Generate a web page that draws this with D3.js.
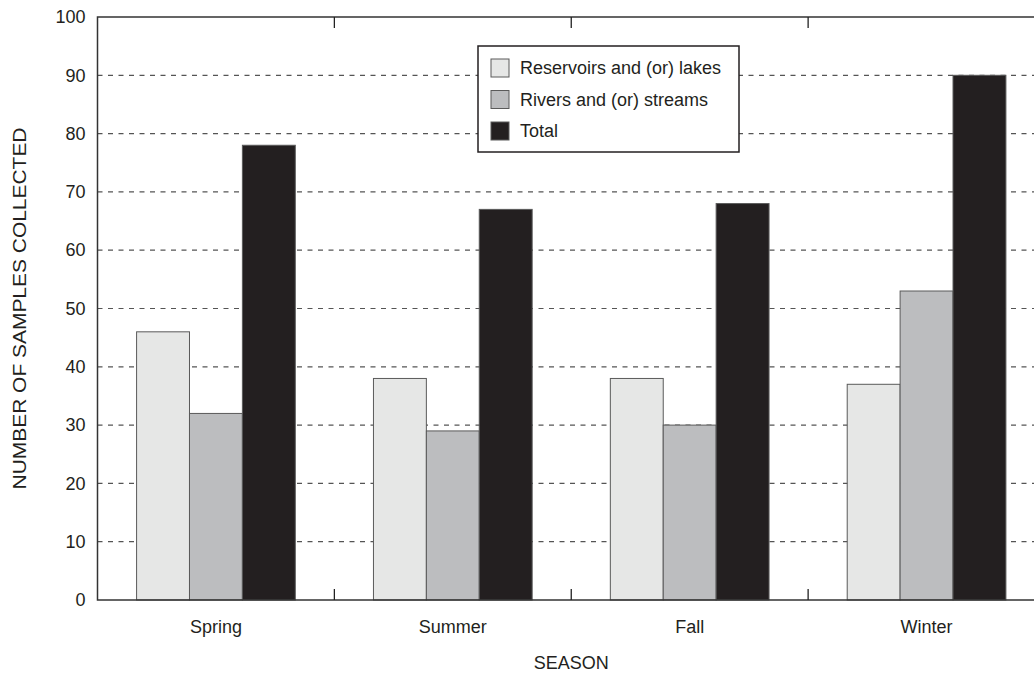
<!DOCTYPE html>
<html>
<head>
<meta charset="utf-8">
<script src="https://cdn.jsdelivr.net/npm/d3@7"></script>
<style>
  body { margin: 0; background: #fff; }
  svg { display: block; font-family: "Liberation Sans", Arial, sans-serif; }
</style>
</head>
<body>
<script>
// data
var seasons = ["Spring", "Summer", "Fall", "Winter"];
var seriesNames = ["Reservoirs and (or) lakes", "Rivers and (or) streams", "Total"];
var reservoirs = [46, 38, 38, 37];
var rivers = [32, 29, 30, 53];
var totals = [78, 67, 68, 90];
var yTicks = [0, 10, 20, 30, 40, 50, 60, 70, 80, 90, 100];
var colors = ["#e6e7e6", "#bcbdbf", "#231f20"];

var W = 1034, H = 675;
var margin = {top: 17, left: 97.5, bottom: 75, right: -11};
var plotW = W - margin.left - margin.right,
    plotH = H - margin.top - margin.bottom;

var svg = d3.select("body").append("svg")
  .attr("width", W)
  .attr("height", H);

var g = svg.append("g")
  .attr("transform", "translate(" + margin.left + "," + margin.top + ")");

var x = d3.scaleBand()
  .domain(seasons)
  .range([0, plotW])
  .paddingInner(0.33)
  .paddingOuter(0.165);

var xInner = d3.scaleBand()
  .domain(d3.range(3))
  .range([0, x.bandwidth()]);

var y = d3.scaleLinear()
  .domain([0, 100])
  .range([plotH, 0]);

// dashed grid
g.selectAll(".grid")
  .data(yTicks.filter(function(d) { return d > 0 && d < 100; }))
  .enter().append("line")
    .attr("x1", 0)
    .attr("x2", plotW)
    .attr("y1", function(d) { return y(d); })
    .attr("y2", function(d) { return y(d); })
    .attr("stroke", "#555")
    .attr("stroke-width", 1.2)
    .attr("stroke-dasharray", "5,5.5");

// bars
var rows = seasons.map(function(s, i) {
  return {season: s, vals: [reservoirs[i], rivers[i], totals[i]]};
});

var groups = g.selectAll(".grp")
  .data(rows)
  .enter().append("g")
    .attr("transform", function(d) { return "translate(" + x(d.season) + ",0)"; });

groups.selectAll("rect")
  .data(function(d) { return d.vals; })
  .enter().append("rect")
    .attr("x", function(d, i) { return xInner(i); })
    .attr("width", xInner.bandwidth())
    .attr("y", function(d) { return y(d); })
    .attr("height", function(d) { return plotH - y(d); })
    .attr("fill", function(d, i) { return colors[i]; })
    .attr("stroke", "#5a5a5a")
    .attr("stroke-width", 1);

// frame
g.append("rect")
  .attr("x", 0).attr("y", 0)
  .attr("width", plotW).attr("height", plotH)
  .attr("fill", "none")
  .attr("stroke", "#333")
  .attr("stroke-width", 1.5);

// tick marks between seasons, bottom and top
var step = x.step();
var bounds = seasons.slice(1).map(function(s) { return x(s) - (step - x.bandwidth()) / 2; });
g.selectAll(".tb")
  .data(bounds)
  .enter().append("line")
    .attr("x1", function(d) { return d; })
    .attr("x2", function(d) { return d; })
    .attr("y1", plotH)
    .attr("y2", plotH - 11)
    .attr("stroke", "#222")
    .attr("stroke-width", 1.3);
g.selectAll(".tt")
  .data(bounds)
  .enter().append("line")
    .attr("x1", function(d) { return d; })
    .attr("x2", function(d) { return d; })
    .attr("y1", 0)
    .attr("y2", 11)
    .attr("stroke", "#222")
    .attr("stroke-width", 1.3);

// axes
var xAxis = g.append("g")
  .attr("transform", "translate(0," + plotH + ")")
  .call(d3.axisBottom(x).tickSize(0).tickPadding(20));
xAxis.select(".domain").remove();
xAxis.selectAll("text")
  .style("font-size", "18px")
  .style("fill", "#231f20");

var yAxis = g.append("g")
  .call(d3.axisLeft(y).tickValues(yTicks).tickSize(0).tickPadding(12));
yAxis.select(".domain").remove();
yAxis.selectAll("text")
  .style("font-size", "18px")
  .style("fill", "#231f20");

// axis titles
g.append("text")
  .attr("x", plotW / 2)
  .attr("y", plotH + 69)
  .attr("text-anchor", "middle")
  .style("font-size", "18px")
  .style("fill", "#231f20")
  .text("SEASON");

svg.append("text")
  .attr("transform", "translate(26," + (margin.top + plotH / 2) + ") rotate(-90)")
  .attr("text-anchor", "middle")
  .attr("textLength", 362)
  .attr("lengthAdjust", "spacingAndGlyphs")
  .style("font-size", "18px")
  .style("fill", "#231f20")
  .text("NUMBER OF SAMPLES COLLECTED");

// legend
var legend = svg.append("g")
  .attr("transform", "translate(478,46)");
legend.append("rect")
  .attr("width", 261)
  .attr("height", 106)
  .attr("fill", "#fff")
  .attr("stroke", "#231f20")
  .attr("stroke-width", 1.5);
var items = legend.selectAll(".item")
  .data(seriesNames)
  .enter().append("g")
    .attr("transform", function(d, i) { return "translate(13," + (13 + i * 31.5) + ")"; });
items.append("rect")
  .attr("width", 18)
  .attr("height", 18)
  .attr("fill", function(d, i) { return colors[i]; })
  .attr("stroke", "#5a5a5a")
  .attr("stroke-width", 1);
items.append("text")
  .attr("x", 29)
  .attr("y", 15)
  .style("font-size", "18px")
  .style("fill", "#231f20")
  .text(function(d) { return d; });
</script>
</body>
</html>
